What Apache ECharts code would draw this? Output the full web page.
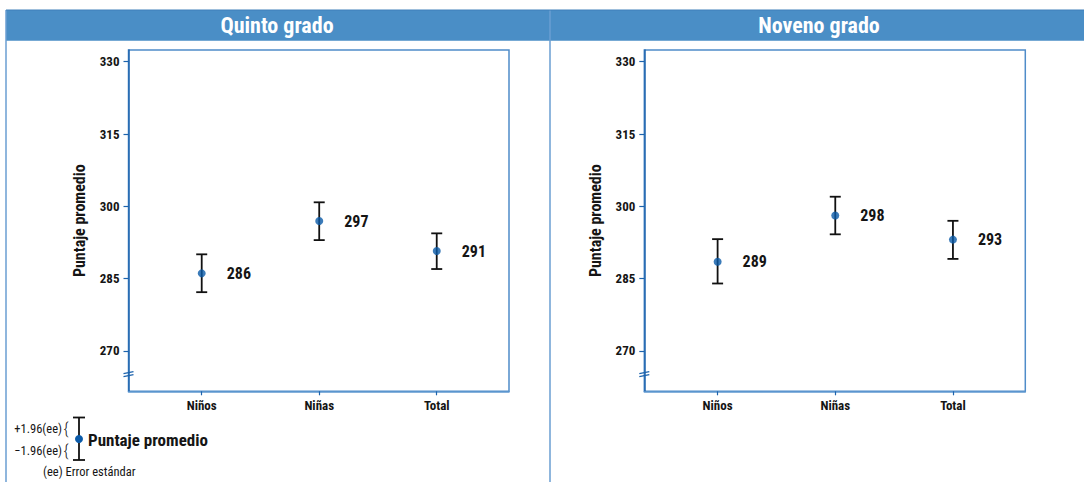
<!DOCTYPE html>
<html>
<head>
<meta charset="utf-8">
<script src="https://cdn.jsdelivr.net/npm/echarts@6/dist/echarts.min.js"></script>
<style>
html,body{margin:0;padding:0;background:#fff;}
#chart{width:1084px;height:482px;}
</style>
</head>
<body>
<div id="chart"></div>
<script>
// ---- data ----
const categories = ['Niños', 'Niñas', 'Total'];
const catPos = [1, 2, 3];
const yTicks = [270, 285, 300, 315, 330];
const panelTitles = ['Quinto grado', 'Noveno grado'];
const yAxisTitle = 'Puntaje promedio';

const quintoMean = [286.1, 296.96, 290.74];
const quintoLow  = [282.2, 293.0, 287.0];
const quintoHigh = [290.05, 300.84, 294.4];

const novenoMean = [288.5, 298.1, 293.1];
const novenoLow  = [284.0, 294.2, 289.1];
const novenoHigh = [293.2, 302.0, 297.0];

const legendPlus = '+1.96(ee)';
const legendMinus = '\u22121.96(ee)';
const legendMain = 'Puntaje promedio';
const legendNote = '(ee) Error estándar';

// ---- styling ----
const FONT = "'Roboto Condensed', 'DejaVu Sans Condensed', sans-serif";
const AXIS_DARK = '#1d63ad';
const AXIS_LIGHT = '#5f98d0';
const FRAME = '#6a9ed2';
const BAR = '#4a8ec6';
const DOT = '#0a5aa8';
const TXT = '#151515';
const Y_MIN = 261.64, Y_MAX = 332.43;
const X_MIN = 0.377, X_MAX = 3.615;
const BREAK_VAL = 265.2;

const chart = echarts.init(document.getElementById('chart'), null, {renderer: 'svg'});

const grids = [
  {left: 128.5, top: 50, width: 380.5, height: 341.3},
  {left: 644.3, top: 50, width: 381, height: 341.3}
];

function xAxisFor(i) {
  return {
    type: 'value', gridIndex: i, min: X_MIN, max: X_MAX,
    splitLine: {show: false},
    axisLine: {show: true, lineStyle: {color: AXIS_LIGHT, width: 1.5}},
    axisTick: {show: true, customValues: catPos, length: 4, lineStyle: {color: AXIS_DARK, width: 1.2}},
    axisLabel: {
      customValues: catPos, margin: 8,
      formatter: v => categories[Math.round(v) - 1] || '',
      fontFamily: FONT, fontWeight: 'bold', fontSize: 13, color: TXT
    }
  };
}
function yAxisFor(i) {
  return {
    type: 'value', gridIndex: i, min: Y_MIN, max: Y_MAX,
    name: yAxisTitle, nameLocation: 'middle', nameRotate: 90, nameGap: 41,
    nameTextStyle: {fontFamily: FONT, fontWeight: 'bold', fontSize: 16, color: TXT},
    splitLine: {show: false},
    axisLine: {show: true, lineStyle: {color: AXIS_DARK, width: 1.5}},
    axisTick: {show: true, customValues: yTicks, length: 5, lineStyle: {color: AXIS_DARK, width: 1.2}},
    axisLabel: {
      customValues: yTicks, margin: 9,
      fontFamily: FONT, fontWeight: 'bold', fontSize: 13, color: TXT
    }
  };
}

function errSeries(i, low, high) {
  return {
    type: 'custom', xAxisIndex: i, yAxisIndex: i, silent: true, z: 3,
    data: catPos.map((x, k) => [x, low[k], high[k]]),
    renderItem: function (params, api) {
      const x = api.value(0);
      const p1 = api.coord([x, api.value(1)]);
      const p2 = api.coord([x, api.value(2)]);
      const cap = 5.5;
      const st = {stroke: '#111', lineWidth: 1.8};
      return {
        type: 'group',
        children: [
          {type: 'line', shape: {x1: p1[0], y1: p1[1], x2: p2[0], y2: p2[1]}, style: st},
          {type: 'line', shape: {x1: p1[0] - cap, y1: p1[1], x2: p1[0] + cap, y2: p1[1]}, style: st},
          {type: 'line', shape: {x1: p2[0] - cap, y1: p2[1], x2: p2[0] + cap, y2: p2[1]}, style: st}
        ]
      };
    }
  };
}
function dotSeries(i, mean) {
  return {
    type: 'scatter', xAxisIndex: i, yAxisIndex: i, z: 5,
    symbol: 'circle', symbolSize: 8,
    itemStyle: {color: DOT},
    data: catPos.map((x, k) => [x, mean[k]]),
    label: {
      show: true, position: 'right', distance: 21,
      formatter: p => String(Math.round(p.value[1])),
      fontFamily: FONT, fontWeight: 'bold', fontSize: 16, color: TXT,
      textBorderWidth: 0, opacity: 1
    },
    emphasis: {disabled: true}
  };
}

const staticGraphics = [
  // title bar
  {type: 'rect', shape: {x: 6, y: 10, width: 1078, height: 30.7}, style: {fill: BAR}, z: 1},
  // panel frame lines
  {type: 'line', shape: {x1: 6, y1: 10, x2: 6, y2: 482}, style: {stroke: FRAME, lineWidth: 1.5}, z: 2},
  {type: 'line', shape: {x1: 550, y1: 10, x2: 550, y2: 482}, style: {stroke: FRAME, lineWidth: 1.5}, z: 2},
  {type: 'line', shape: {x1: 6, y1: 10, x2: 1084, y2: 10}, style: {stroke: '#3f7fb9', lineWidth: 1}, z: 2},
  // titles
  {type: 'text', x: 277, y: 25.5, style: {text: panelTitles[0], fill: '#fff', font: "bold 22px " + FONT, textAlign: 'center', textVerticalAlign: 'middle'}, z: 3},
  {type: 'text', x: 819, y: 25.5, style: {text: panelTitles[1], fill: '#fff', font: "bold 22px " + FONT, textAlign: 'center', textVerticalAlign: 'middle'}, z: 3},
  // legend key
  {type: 'text', x: 62, y: 428, style: {text: legendPlus, fill: TXT, font: "12.5px " + FONT, textAlign: 'right', textVerticalAlign: 'middle'}},
  {type: 'text', x: 63.5, y: 428, style: {text: '{', fill: TXT, font: "300 17px " + FONT, textAlign: 'left', textVerticalAlign: 'middle'}},
  {type: 'text', x: 62, y: 450, style: {text: legendMinus, fill: TXT, font: "12.5px " + FONT, textAlign: 'right', textVerticalAlign: 'middle'}},
  {type: 'text', x: 63.5, y: 450, style: {text: '{', fill: TXT, font: "300 17px " + FONT, textAlign: 'left', textVerticalAlign: 'middle'}},
  {type: 'line', shape: {x1: 79, y1: 417.5, x2: 79, y2: 460}, style: {stroke: '#111', lineWidth: 1.8}},
  {type: 'line', shape: {x1: 73, y1: 417.5, x2: 85, y2: 417.5}, style: {stroke: '#111', lineWidth: 1.8}},
  {type: 'line', shape: {x1: 73, y1: 460, x2: 85, y2: 460}, style: {stroke: '#111', lineWidth: 1.8}},
  {type: 'circle', shape: {cx: 79, cy: 439, r: 4}, style: {fill: DOT}, z: 4},
  {type: 'text', x: 88, y: 439.5, style: {text: legendMain, fill: TXT, font: "bold 17px " + FONT, textAlign: 'left', textVerticalAlign: 'middle'}},
  {type: 'text', x: 43, y: 471.5, style: {text: legendNote, fill: TXT, font: "12.5px " + FONT, textAlign: 'left', textVerticalAlign: 'middle'}}
];

chart.setOption({
  animation: false,
  backgroundColor: '#fff',
  grid: grids.map(g => Object.assign({show: true, borderColor: '#4f8cc9', borderWidth: 1.5, backgroundColor: 'transparent'}, g)),
  xAxis: [xAxisFor(0), xAxisFor(1)],
  yAxis: [yAxisFor(0), yAxisFor(1)],
  series: [
    errSeries(0, quintoLow, quintoHigh),
    dotSeries(0, quintoMean),
    errSeries(1, novenoLow, novenoHigh),
    dotSeries(1, novenoMean)
  ],
  graphic: staticGraphics
});

// axis-break marks placed through the axes' own scales
const breakGraphics = [0, 1].map(i => {
  const p = chart.convertToPixel({xAxisIndex: i, yAxisIndex: i}, [X_MIN, BREAK_VAL]);
  const st = {stroke: AXIS_DARK, lineWidth: 1.2};
  return {
    type: 'group', z: 6,
    children: [
      {type: 'line', shape: {x1: p[0] - 5, y1: p[1] - 0.5, x2: p[0] + 5, y2: p[1] - 2.5}, style: st},
      {type: 'line', shape: {x1: p[0] - 5, y1: p[1] + 2.5, x2: p[0] + 5, y2: p[1] + 0.5}, style: st}
    ]
  };
});
chart.setOption({graphic: staticGraphics.concat(breakGraphics)});
</script>
</body>
</html>
